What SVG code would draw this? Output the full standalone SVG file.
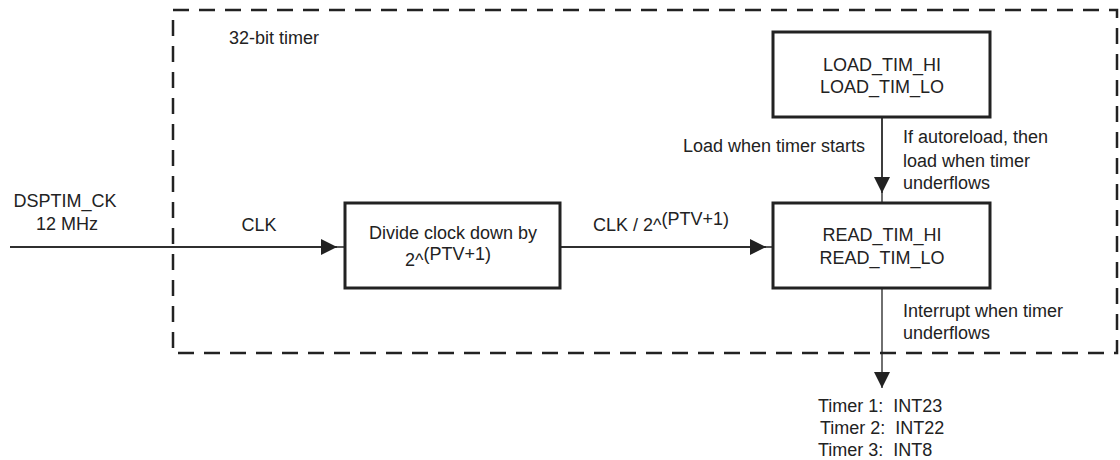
<svg xmlns="http://www.w3.org/2000/svg" width="1120" height="460" viewBox="0 0 1120 460">
  <style>
    text { font-family: "Liberation Sans", Arial, sans-serif; font-size: 18px; fill: #222; }
    .mid { text-anchor: middle; }
    .box { fill: #fff; stroke: #222; stroke-width: 3; }
    .wire { fill: none; stroke: #222; stroke-width: 1.3; }
    .frame { fill: none; stroke: #222; stroke-width: 2.5; stroke-dasharray: 16 10; }
  </style>
  <defs>
    <marker id="arrow" viewBox="0 0 16 16" refX="16" refY="8" markerWidth="16" markerHeight="16" markerUnits="userSpaceOnUse" orient="auto">
      <path d="M0,0 L16,8 L0,16 Z" fill="#222"/>
    </marker>
  </defs>

  <!-- 32-bit timer boundary -->
  <g id="timer-frame">
    <rect class="frame" x="173" y="10" width="944" height="343"/>
    <text x="229" y="44">32-bit timer</text>
  </g>

  <!-- connectors -->
  <g id="connectors">
    <line class="wire" x1="10" y1="247" x2="345" y2="247"/>
    <line class="wire" x1="10" y1="247" x2="337" y2="247" marker-end="url(#arrow)"/>
    <line class="wire" x1="560" y1="247" x2="773" y2="247"/>
    <line class="wire" x1="560" y1="247" x2="766" y2="247" marker-end="url(#arrow)"/>
    <line class="wire" x1="882" y1="117" x2="882" y2="203"/>
    <line class="wire" x1="882" y1="117" x2="882" y2="193" marker-end="url(#arrow)"/>
    <line class="wire" x1="882" y1="288" x2="882" y2="388" marker-end="url(#arrow)"/>
  </g>

  <!-- clock source -->
  <g id="clock-source">
    <text class="mid" x="65" y="207">DSPTIM_CK</text>
    <text class="mid" x="67" y="230">12 MHz</text>
    <text class="mid" x="259" y="231">CLK</text>
  </g>

  <!-- prescaler -->
  <g id="divider">
    <rect class="box" x="345" y="203" width="215" height="85"/>
    <text class="mid" x="453" y="239">Divide clock down by</text>
    <text x="405" y="266">2^<tspan dy="-6">(PTV+1)</tspan></text>
  </g>

  <g id="divided-clock-label">
    <text x="593" y="231">CLK / 2^<tspan dy="-6">(PTV+1)</tspan></text>
  </g>

  <!-- reload registers -->
  <g id="load-registers">
    <rect class="box" x="773" y="32" width="217" height="85"/>
    <text class="mid" x="882" y="71">LOAD_TIM_HI</text>
    <text class="mid" x="882" y="93">LOAD_TIM_LO</text>
  </g>

  <g id="load-labels">
    <text x="683" y="152">Load when timer starts</text>
    <text x="903" y="143">If autoreload, then</text>
    <text x="903" y="167">load when timer</text>
    <text x="903" y="189">underflows</text>
  </g>

  <!-- counter registers -->
  <g id="read-registers">
    <rect class="box" x="773" y="203" width="217" height="85"/>
    <text class="mid" x="882" y="241">READ_TIM_HI</text>
    <text class="mid" x="882" y="264">READ_TIM_LO</text>
  </g>

  <g id="interrupt-labels">
    <text x="903" y="317">Interrupt when timer</text>
    <text x="903" y="339">underflows</text>
  </g>

  <!-- interrupt outputs -->
  <g id="interrupts">
    <text x="818" y="412" xml:space="preserve">Timer 1:  INT23</text>
    <text x="820" y="434" xml:space="preserve">Timer 2:  INT22</text>
    <text x="818" y="456" xml:space="preserve">Timer 3:  INT8</text>
  </g>
</svg>
